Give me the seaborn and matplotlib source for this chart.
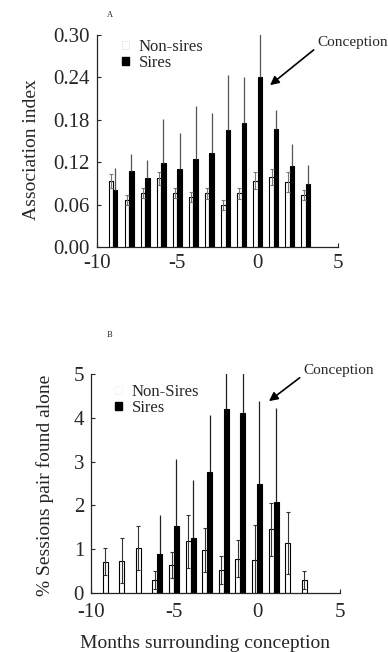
import numpy as np
import pandas as pd
import matplotlib
matplotlib.use('Agg')
import matplotlib.pyplot as plt
import seaborn as sns
from matplotlib.patches import Patch

# ---------------- data ----------------
months_a = [-9, -8, -7, -6, -5, -4, -3, -2, -1, 0, 1, 2, 3]
nonsires_a = [0.093, 0.067, 0.076, 0.097, 0.076, 0.071, 0.076, 0.060, 0.076, 0.094, 0.099, 0.092, 0.074]
nonsires_a_err = [0.010, 0.007, 0.007, 0.009, 0.007, 0.007, 0.008, 0.007, 0.008, 0.012, 0.011, 0.014, 0.007]
sires_a = [0.080, 0.108, 0.098, 0.119, 0.111, 0.125, 0.133, 0.166, 0.175, 0.240, 0.167, 0.115, 0.089]
sires_a_err = [0.032, 0.024, 0.025, 0.062, 0.050, 0.074, 0.056, 0.077, 0.065, 0.080, 0.027, 0.031, 0.027]

months_b = [-9, -8, -7, -6, -5, -4, -3, -2, -1, 0, 1, 2, 3]
nonsires_b = [0.71, 0.74, 1.02, 0.30, 0.64, 1.18, 0.98, 0.53, 0.78, 0.76, 1.45, 1.14, 0.30]
nonsires_b_err = [0.31, 0.52, 0.50, 0.20, 0.30, 0.60, 0.50, 0.32, 0.42, 0.80, 0.61, 0.71, 0.20]
months_b_sires = [-6, -5, -4, -3, -2, -1, 0, 1]
sires_b = [0.88, 1.54, 1.26, 2.76, 4.20, 4.12, 2.48, 2.08]
sires_b_err = [0.90, 1.51, 1.31, 1.31, 1.20, 1.20, 1.90, 2.14]

yticks_a = [0.00, 0.06, 0.12, 0.18, 0.24, 0.30]
yticks_b = [0, 1, 2, 3, 4, 5]
xticks = [-10, -5, 0, 5]

# ---------------- style ----------------
sns.set_theme(style='ticks')
plt.rcParams['font.family'] = ['Liberation Serif', 'DejaVu Serif']
plt.rcParams['axes.linewidth'] = 0.9
plt.rcParams['xtick.direction'] = 'in'
plt.rcParams['ytick.direction'] = 'in'

fig = plt.figure(figsize=(3.88, 6.52), dpi=100)
axA = fig.add_axes([97/388, 1-247/652, 241/388, 212/652])
axB = fig.add_axes([91/388, 1-593/652, 249/388, 219/652])


def long_frame(m_ns, v_ns, m_s, v_s, lab_ns, lab_s):
    return pd.concat([
        pd.DataFrame({'month': m_ns, 'value': v_ns, 'group': lab_ns}),
        pd.DataFrame({'month': m_s, 'value': v_s, 'group': lab_s}),
    ], ignore_index=True)


def draw_panel(ax, df, order, width, err_ns, err_s, ns_err_color, s_err_color):
    sns.barplot(data=df, x='month', y='value', hue='group', hue_order=order,
                palette={order[0]: 'white', order[1]: 'black'}, saturation=1,
                native_scale=True, width=width, dodge=True, errorbar=None,
                edgecolor='black', linewidth=0.8, legend=False, ax=ax)
    # error bars, positioned from the bars that seaborn drew
    for cont, errs, is_ns in zip(ax.containers, (err_ns, err_s), (True, False)):
        for p in cont.patches:
            xc = p.get_x() + p.get_width() / 2
            h = p.get_height()
            m = int(round(xc))
            e = errs[m]
            if is_ns:
                ax.errorbar(xc, h, yerr=e, fmt='none', ecolor=ns_err_color,
                            elinewidth=0.8, capsize=1.5, capthick=0.8, zorder=3)
            else:
                ax.errorbar(xc, h, yerr=[[0], [e]], fmt='none', ecolor=s_err_color,
                            elinewidth=0.9, capsize=0, zorder=3)


# ---------------- panel A ----------------
dfA = long_frame(months_a, nonsires_a, months_a, sires_a, 'Non-sires', 'Sires')
draw_panel(axA, dfA, ['Non-sires', 'Sires'], 0.55,
           dict(zip(months_a, nonsires_a_err)), dict(zip(months_a, sires_a_err)),
           '#777777', '#555555')
axA.set_xlim(-10, 5)
axA.set_ylim(0, 0.30)
axA.set_yticks(yticks_a)
axA.set_yticklabels([f'{t:.2f}' for t in yticks_a])
axA.set_xticks(xticks)
axA.set_xticklabels([str(t) for t in xticks])
axA.set_xlabel('')
axA.set_ylabel('Association index', fontsize=14)
axA.yaxis.set_label_coords(-0.235, 0.46)
axA.tick_params(labelsize=15, length=3, width=0.8, pad=5)
sns.despine(ax=axA)
axA.annotate('Conception', xy=(0.77, 0.229), xytext=(3.69, 0.29),
             fontsize=11, ha='left', va='center', annotation_clip=False,
             arrowprops=dict(arrowstyle='-|>', color='black', lw=1.2,
                             mutation_scale=13, shrinkA=0, shrinkB=0, relpos=(0, 0.1)))
legA = axA.legend(handles=[Patch(facecolor='white', edgecolor='#dddddd', lw=0.4),
                           Patch(facecolor='black', edgecolor='black')],
                  labels=['Non-sires', 'Sires'], loc='upper left',
                  bbox_to_anchor=(0.104, 0.98), frameon=False, fontsize=12,
                  handlelength=0.4, handleheight=0.4, handletextpad=0.6,
                  labelspacing=0.0, borderpad=0, borderaxespad=0)

# ---------------- panel B ----------------
dfB = long_frame(months_b, nonsires_b, months_b_sires, sires_b, 'Non-Sires', 'Sires')
draw_panel(axB, dfB, ['Non-Sires', 'Sires'], 0.6,
           dict(zip(months_b, nonsires_b_err)), dict(zip(months_b_sires, sires_b_err)),
           '#333333', '#222222')
axB.set_xlim(-10, 5)
axB.set_ylim(0, 5)
axB.set_yticks(yticks_b)
axB.set_yticklabels([str(t) for t in yticks_b])
axB.set_xticks(xticks)
axB.set_xticklabels([str(t) for t in xticks])
axB.set_xlabel('Months surrounding conception', fontsize=14)
axB.xaxis.set_label_coords(0.458, -0.19)
axB.set_ylabel('% Sessions pair found alone', fontsize=14)
axB.yaxis.set_label_coords(-0.15, 0.49)
axB.tick_params(labelsize=15, length=3, width=0.8, pad=5)
axB.tick_params(axis='x', pad=7)
sns.despine(ax=axB)
axB.annotate('Conception', xy=(0.72, 4.38), xytext=(2.77, 5.09),
             fontsize=11, ha='left', va='center', annotation_clip=False,
             arrowprops=dict(arrowstyle='-|>', color='black', lw=1.2,
                             mutation_scale=13, shrinkA=0, shrinkB=0, relpos=(0, 0.1)))
legB = axB.legend(handles=[Patch(facecolor='white', edgecolor='#eeeeee', lw=0.4),
                           Patch(facecolor='black', edgecolor='black')],
                  labels=['Non-Sires', 'Sires'], loc='upper left',
                  bbox_to_anchor=(0.096, 0.955), frameon=False, fontsize=12,
                  handlelength=0.4, handleheight=0.4, handletextpad=0.6,
                  labelspacing=0.0, borderpad=0, borderaxespad=0)

# panel letters
fig.text(110/388, 1-15/652, 'A', fontsize=6, ha='center', va='center')
fig.text(110/388, 1-335/652, 'B', fontsize=6, ha='center', va='center')

fig.savefig('out.png', dpi=100)
